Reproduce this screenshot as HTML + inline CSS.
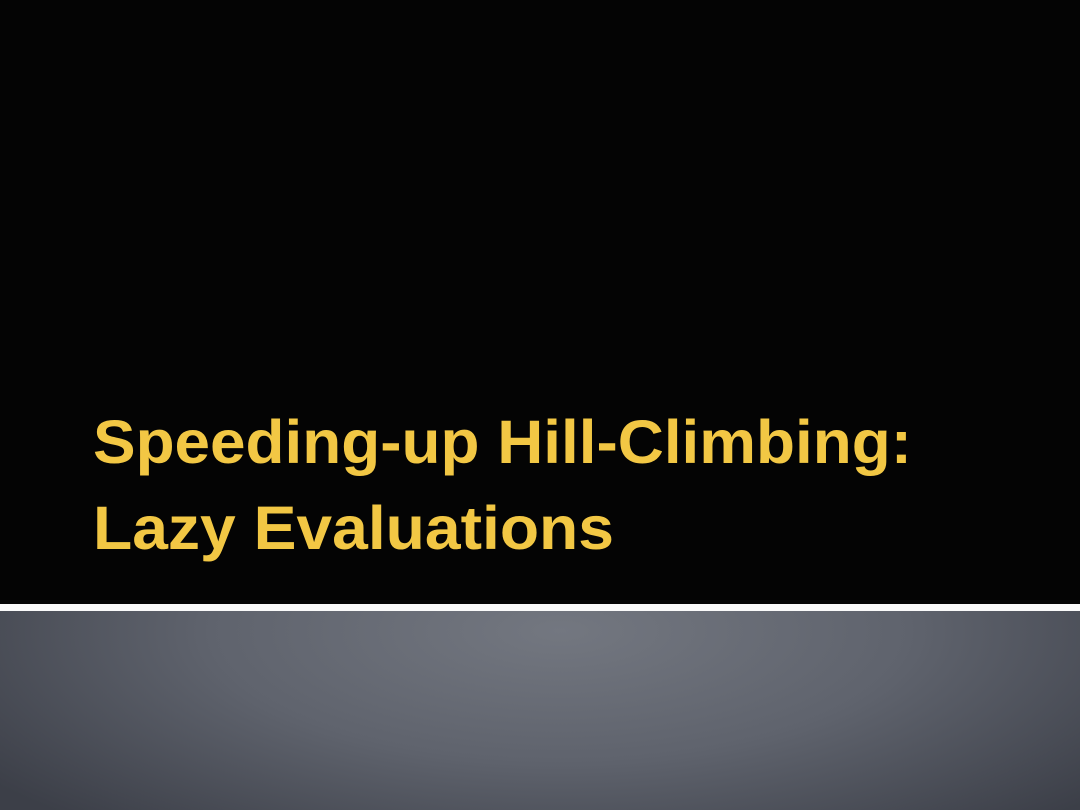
<!DOCTYPE html>
<html><head><meta charset="utf-8"><style>
html,body{margin:0;padding:0;background:#040404;}
#slide{position:relative;width:1080px;height:810px;overflow:hidden;background:#040404;}
#band{position:absolute;left:0;top:604px;width:1080px;height:7px;background:#fafafa;}
#bottom{position:absolute;left:0;top:611px;width:1080px;height:199px;
background:radial-gradient(ellipse 700px 260px at 560px 20px,#737780 0%,#5f636d 50%,#3c3f48 100%);}
svg{position:absolute;left:0;top:0;}
</style></head><body>
<div id="slide">
<div id="band"></div>
<div id="bottom"></div>
<svg width="1080" height="810">
<text x="93" y="463" textLength="819" lengthAdjust="spacingAndGlyphs" fill="#f2c744" font-family="Liberation Sans, sans-serif" font-weight="bold" font-size="61">Speeding-up Hill-Climbing:</text>
<text x="93" y="549" textLength="521" lengthAdjust="spacingAndGlyphs" fill="#f2c744" font-family="Liberation Sans, sans-serif" font-weight="bold" font-size="61">Lazy Evaluations</text>
</svg>
</div>
</body></html>
